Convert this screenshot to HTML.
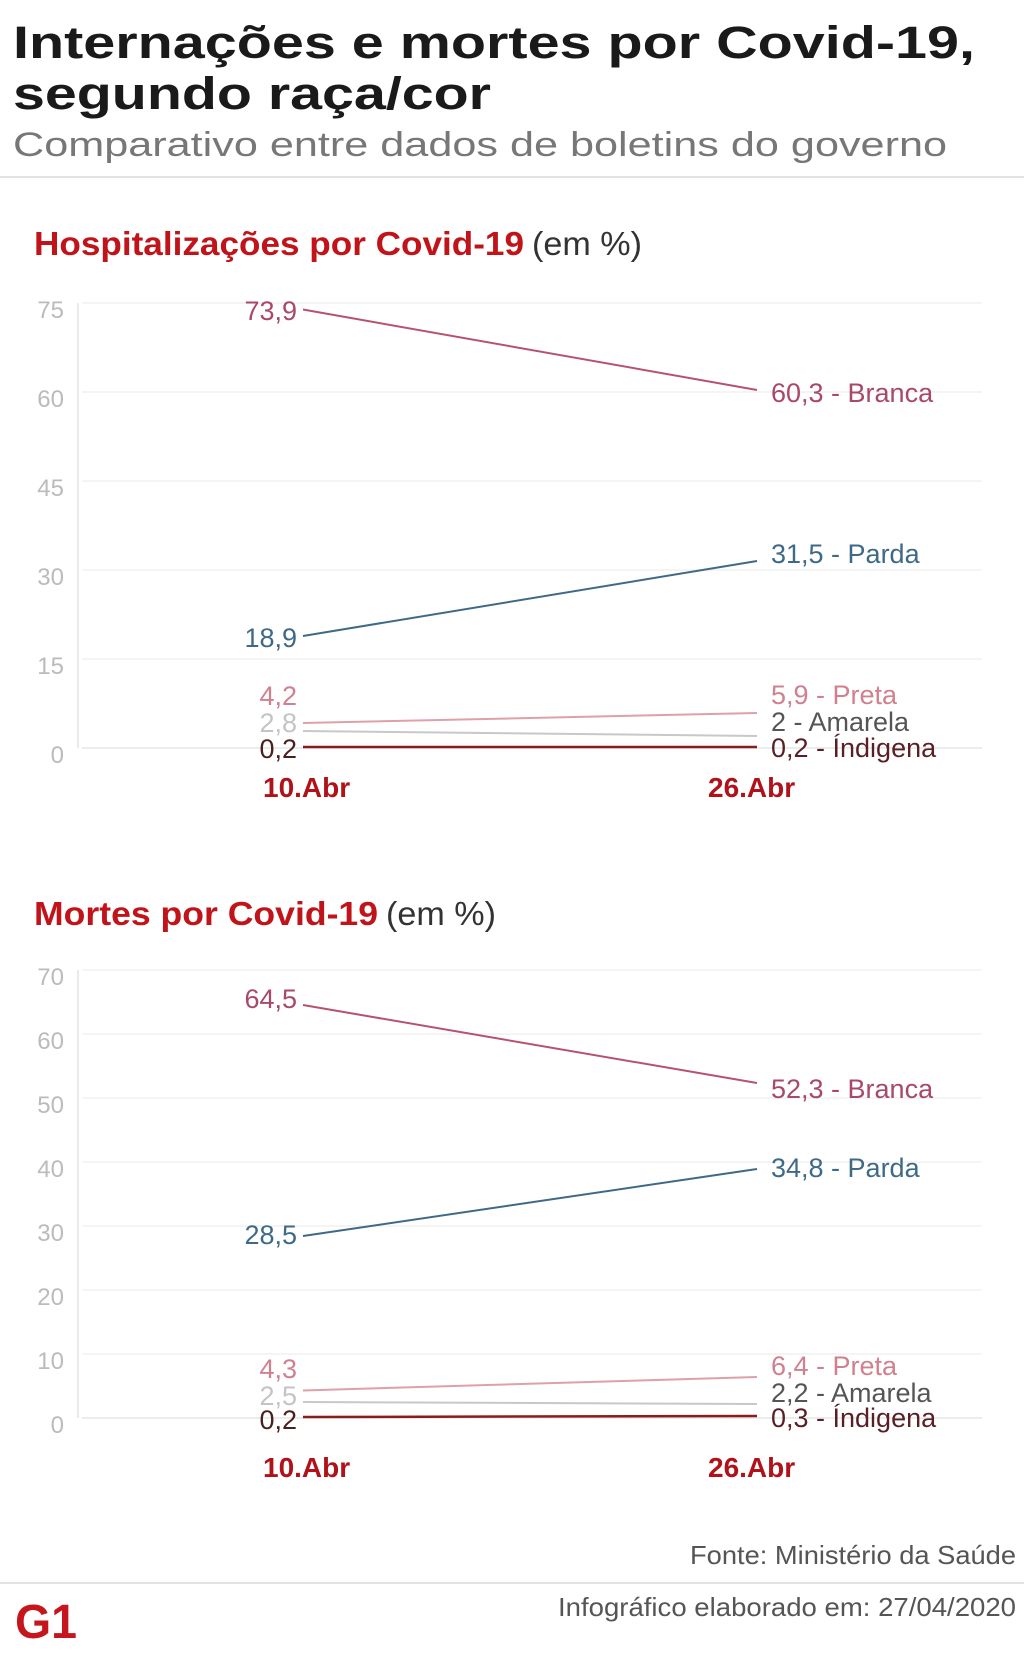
<!DOCTYPE html>
<html><head><meta charset="utf-8"><style>
html,body{margin:0;padding:0;background:#fff;width:1024px;height:1656px;overflow:hidden}
svg{display:block}
text{font-family:"Liberation Sans",sans-serif}
</style></head><body>
<svg width="1024" height="1656" viewBox="0 0 1024 1656" xmlns="http://www.w3.org/2000/svg">
<rect width="1024" height="1656" fill="#fff"/>
<text x="13" y="58" font-size="45" font-weight="bold" fill="#1a1a1a" textLength="962" lengthAdjust="spacingAndGlyphs">Internações e mortes por Covid-19,</text>
<text x="13" y="109" font-size="45" font-weight="bold" fill="#1a1a1a" textLength="478" lengthAdjust="spacingAndGlyphs">segundo raça/cor</text>
<text x="13" y="156" font-size="34" fill="#777" textLength="934" lengthAdjust="spacingAndGlyphs">Comparativo entre dados de boletins do governo</text>
<rect x="0" y="176" width="1024" height="2" fill="#e2e2e2"/>

<text x="34" y="255" font-size="33" font-weight="bold" fill="#c0141a" textLength="490" lengthAdjust="spacingAndGlyphs">Hospitalizações por Covid-19</text>
<text x="532" y="255" font-size="33" fill="#333" textLength="110" lengthAdjust="spacingAndGlyphs">(em %)</text>

<g stroke="#f0f0f0" stroke-width="1.5">
<line x1="82" y1="303" x2="982" y2="303"/><line x1="82" y1="392" x2="982" y2="392"/>
<line x1="82" y1="481" x2="982" y2="481"/><line x1="82" y1="570" x2="982" y2="570"/>
<line x1="82" y1="659" x2="982" y2="659"/><line x1="82" y1="748" x2="982" y2="748" stroke="#e6e6e6"/>
</g>
<line x1="78" y1="303" x2="78" y2="748" stroke="#e3e3e3" stroke-width="1.5"/>
<g font-size="24" fill="#bbb" text-anchor="end">
<text x="64" y="318">75</text><text x="64" y="407">60</text><text x="64" y="496">45</text>
<text x="64" y="585">30</text><text x="64" y="674">15</text><text x="64" y="763">0</text>
</g>
<line x1="303" y1="309.5" x2="757" y2="390" stroke="#b5536f" stroke-width="2"/>
<line x1="303" y1="636" x2="757" y2="561" stroke="#3f6a87" stroke-width="2"/>
<line x1="303" y1="723" x2="757" y2="713" stroke="#e0a0aa" stroke-width="2"/>
<line x1="303" y1="731" x2="757" y2="736" stroke="#c8c8c8" stroke-width="2"/>
<line x1="303" y1="747" x2="757" y2="747" stroke="#8a1c1c" stroke-width="2.5"/>
<g font-size="27" text-anchor="end">
<text x="297" y="320" fill="#a8486a">73,9</text>
<text x="297" y="647" fill="#3f6a87">18,9</text>
<text x="297" y="705" fill="#d0808f">4,2</text>
<text x="297" y="732" fill="#c4c4c4">2,8</text>
<text x="297" y="758" fill="#4a1f1f">0,2</text>
</g>
<g font-size="27">
<text x="771" y="402" fill="#a8486a">60,3 - Branca</text>
<text x="771" y="563" fill="#3f6a87">31,5 - Parda</text>
<text x="771" y="704" fill="#d0808f">5,9 - Preta</text>
<text x="771" y="731" fill="#555">2 - Amarela</text>
<text x="771" y="757" fill="#5a1f25">0,2 - Índigena</text>
</g>
<text x="263" y="797" font-size="28" font-weight="bold" fill="#b0121a">10.Abr</text>
<text x="708" y="797" font-size="28" font-weight="bold" fill="#b0121a">26.Abr</text>

<text x="34" y="925" font-size="33" font-weight="bold" fill="#c0141a" textLength="344" lengthAdjust="spacingAndGlyphs">Mortes por Covid-19</text>
<text x="386" y="925" font-size="33" fill="#333" textLength="110" lengthAdjust="spacingAndGlyphs">(em %)</text>

<g stroke="#f0f0f0" stroke-width="1.5">
<line x1="82" y1="970" x2="982" y2="970"/><line x1="82" y1="1034" x2="982" y2="1034"/>
<line x1="82" y1="1098" x2="982" y2="1098"/><line x1="82" y1="1162" x2="982" y2="1162"/>
<line x1="82" y1="1226" x2="982" y2="1226"/><line x1="82" y1="1290" x2="982" y2="1290"/>
<line x1="82" y1="1354" x2="982" y2="1354"/><line x1="82" y1="1418" x2="982" y2="1418" stroke="#e6e6e6"/>
</g>
<line x1="78" y1="970" x2="78" y2="1418" stroke="#e3e3e3" stroke-width="1.5"/>
<g font-size="24" fill="#bbb" text-anchor="end">
<text x="64" y="985">70</text><text x="64" y="1049">60</text><text x="64" y="1113">50</text>
<text x="64" y="1177">40</text><text x="64" y="1241">30</text><text x="64" y="1305">20</text>
<text x="64" y="1369">10</text><text x="64" y="1433">0</text>
</g>
<line x1="303" y1="1005" x2="757" y2="1083" stroke="#b5536f" stroke-width="2"/>
<line x1="303" y1="1236" x2="757" y2="1169" stroke="#3f6a87" stroke-width="2"/>
<line x1="303" y1="1390.5" x2="757" y2="1377" stroke="#e0a0aa" stroke-width="2"/>
<line x1="303" y1="1402" x2="757" y2="1404" stroke="#c8c8c8" stroke-width="2"/>
<line x1="303" y1="1417" x2="757" y2="1416" stroke="#8a1c1c" stroke-width="2.5"/>
<g font-size="27" text-anchor="end">
<text x="297" y="1008" fill="#a8486a">64,5</text>
<text x="297" y="1244" fill="#3f6a87">28,5</text>
<text x="297" y="1378" fill="#d0808f">4,3</text>
<text x="297" y="1405" fill="#c4c4c4">2,5</text>
<text x="297" y="1429" fill="#4a1f1f">0,2</text>
</g>
<g font-size="27">
<text x="771" y="1098" fill="#a8486a">52,3 - Branca</text>
<text x="771" y="1177" fill="#3f6a87">34,8 - Parda</text>
<text x="771" y="1375" fill="#d0808f">6,4 - Preta</text>
<text x="771" y="1402" fill="#555">2,2 - Amarela</text>
<text x="771" y="1427" fill="#5a1f25">0,3 - Índigena</text>
</g>
<text x="263" y="1477" font-size="28" font-weight="bold" fill="#b0121a">10.Abr</text>
<text x="708" y="1477" font-size="28" font-weight="bold" fill="#b0121a">26.Abr</text>

<text x="690" y="1564" font-size="26" fill="#555" textLength="326" lengthAdjust="spacingAndGlyphs">Fonte: Ministério da Saúde</text>
<rect x="0" y="1582" width="1024" height="2" fill="#e2e2e2"/>
<text x="558" y="1616" font-size="26" fill="#555" textLength="458" lengthAdjust="spacingAndGlyphs">Infográfico elaborado em: 27/04/2020</text>
<text x="15" y="1638" font-size="48" font-weight="bold" fill="#c4161c" textLength="62" lengthAdjust="spacingAndGlyphs">G1</text>
</svg>
</body></html>
